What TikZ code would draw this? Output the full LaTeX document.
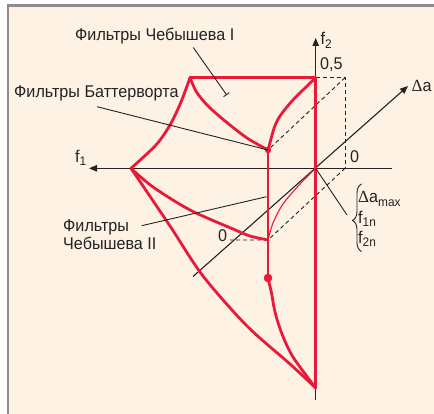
\documentclass[tikz,border=0pt]{standalone}
\usepackage{fontspec}
\setmainfont[FakeStretch=0.95]{Liberation Sans}
\newfontfamily\deltafont{Liberation Serif}
\usetikzlibrary{arrows.meta,decorations.pathreplacing}
\definecolor{bgbeige}{RGB}{253,242,228}
\definecolor{framegray}{RGB}{140,140,140}
\definecolor{fred}{RGB}{232,26,58}
\definecolor{ink}{RGB}{35,35,35}
\newcommand{\lsub}[1]{\raisebox{-3.2pt}{\fontsize{12.5}{14}\selectfont #1}}
\tikzset{
  redthick/.style={draw=fred, line width=2.8pt, line join=round, line cap=round},
  redthin/.style={draw=fred, line width=1.1pt},
  axisline/.style={draw=ink, line width=1.1pt, -{Triangle[length=8pt,width=6.5pt]}},
  leader/.style={draw=ink, line width=0.9pt},
  dashline/.style={draw=ink, line width=0.9pt, dash pattern=on 4pt off 3pt},
  lbl/.style={inner sep=0pt, anchor=base west, text=ink, font=\fontsize{17}{19}\selectfont},
  reddot/.style={fill=fred},
}
\begin{document}
\begin{tikzpicture}[x=1pt,y=-1pt]
\useasboundingbox (0,0) rectangle (434,414);
\fill[white] (0,0) rectangle (434,414);
\fill[framegray] (6.5,4.5) rectangle (434,414);
\fill[bgbeige] (9,7.3) rectangle (434,414);

% key points
\coordinate (O) at (315.7,168.3);
\coordinate (A) at (190,77.7);
\coordinate (B) at (315.7,77.7);
\coordinate (C) at (315.7,388);
\coordinate (L) at (131,168.3);
\coordinate (BW) at (268,150);
\coordinate (Z) at (268,240);
\coordinate (D) at (268,278);
\coordinate (P) at (345,77.7);
\coordinate (Q) at (345,168.3);
\coordinate (Zl) at (230,240);

% axes
\coordinate (f1s) at (392,168.3);
\coordinate (f1e) at (89,168.3);
\coordinate (f2s) at (315.7,400);
\coordinate (f2e) at (315.7,38);
\coordinate (das) at (193,276.5);
\coordinate (dae) at (408,86);
\draw[axisline] (f1s) -- (f1e);
\draw[axisline] (f2s) -- (f2e);
\draw[axisline] (das) -- (dae);

% dashed helpers
\draw[dashline] (B) -- (P) -- (Q);
\draw[dashline] (P) -- (BW);
\draw[dashline] (Q) -- (Z) -- (Zl);

% red figure
\draw[redthick] (A) -- (B) -- (C);
\draw[redthick] (BW) -- (D);
\draw[redthick] plot[smooth] coordinates {(190,77.7) (196.5,92) (208,106) (225,121) (247,138) (268,150)};
\draw[redthick] plot[smooth] coordinates {(268,150) (271,139) (274.5,127) (280,116) (293,100) (315.7,77.7)};
\draw[redthick] plot[smooth] coordinates {(190,77.7) (181,102) (170,125) (156,145) (131,168.3)};
\draw[redthick] plot[smooth] coordinates {(131,168.3) (153,187) (190,210) (233,229) (250,236) (268,240)};
\draw[redthick] plot[smooth] coordinates {(131,168.3) (170,226) (203,276) (247,326) (290,364) (315.7,388)};
\draw[redthick] plot[smooth] coordinates {(268,278) (271.5,293) (275,312) (282,334) (293,357) (315.7,388)};
\draw[redthin] plot[smooth] coordinates {(268,240) (273,223) (283,204) (300,184) (315.7,168.3)};
\fill[reddot] (BW) circle (3.2pt);
\fill[reddot] (D) circle (4.3pt);

% labels
\node[lbl] (cheb1) at (75,41) {Фильтры Чебышева I};
\node[lbl] (butter) at (14,97.7) {Фильтры Баттерворта};
\node[lbl, align=left, anchor=base west] (cheb2) at (63,250) {Фильтры\\[-0.5pt]Чебышева II};
\node[lbl] (f1lbl) at (75,162.5) {f\lsub{1}};
\node[lbl] (f2lbl) at (320.5,45) {f\lsub{2}};
\node[lbl] (half) at (320,69.3) {0,5};
\node[lbl] (dalbl) at (411.5,91.7) {{\deltafont Δ}a};
\node[lbl] (zr) at (350,163) {0};
\node[lbl] (zl) at (218,241.7) {0};
\node[lbl] (damax) at (358,203) {{\deltafont Δ}a\lsub{max}};
\node[lbl] (f1n) at (358,223.3) {f\lsub{1n}};
\node[lbl] (f2n) at (358,243.3) {f\lsub{2n}};

% leaders
\coordinate (c1a) at (193.3,47.5);
\coordinate (c1b) at (226.7,95);
\draw[leader, -{Bar[width=7pt,length=0pt]}] (c1a) -- (c1b);
\coordinate (bwa) at (97,106.7);
\draw[leader] (bwa) -- (BW);
\coordinate (c2a) at (141.7,225.7);
\coordinate (c2b) at (266.5,196.7);
\draw[leader] (c2a) -- (c2b);
\coordinate (brtip) at (347,215);
\draw[leader] (O) -- (brtip);
\coordinate (brb) at (361.5,251.5);
\coordinate (brt) at (361.5,184);
\draw[leader, decorate, decoration={brace, amplitude=9pt, aspect=0.46}] (brb) -- (brt);
\end{tikzpicture}
\end{document}
